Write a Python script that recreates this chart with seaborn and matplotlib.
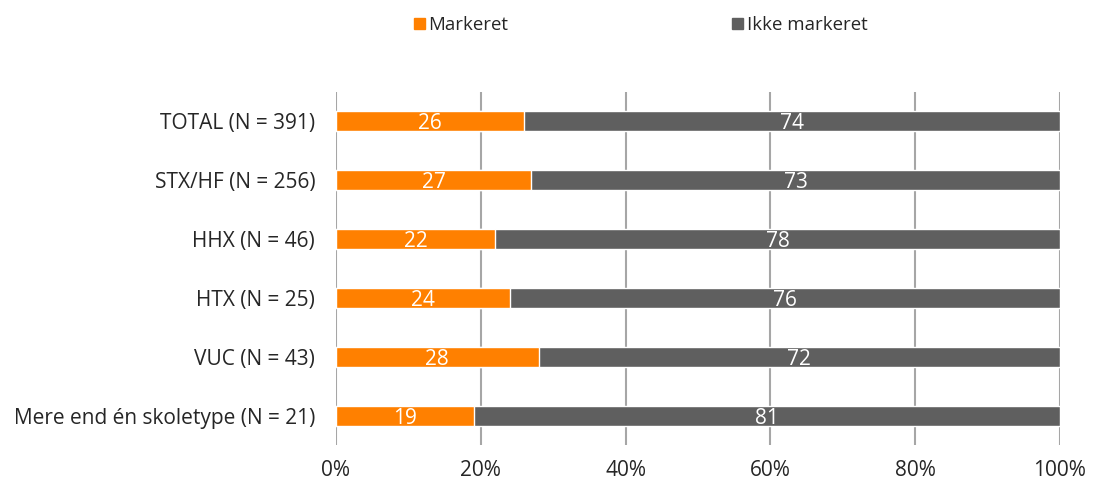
import pandas as pd
import matplotlib.pyplot as plt
import seaborn as sns
from matplotlib.patches import Patch

sns.set_theme(style="white")
plt.rcParams['font.family'] = ['Open Sans', 'DejaVu Sans']

kategorier = ['TOTAL (N = 391)', 'STX/HF (N = 256)', 'HHX (N = 46)', 'HTX (N = 25)',
              'VUC (N = 43)', 'Mere end én skoletype (N = 21)']
markeret = [26, 27, 22, 24, 28, 19]
ikke_markeret = [74, 73, 78, 76, 72, 81]

orange = '#FF8000'
graa = '#5F5F5F'

df = pd.DataFrame({'kategori': kategorier, 'Markeret': markeret, 'Ikke markeret': ikke_markeret})
df['total'] = df['Markeret'] + df['Ikke markeret']

fig = plt.figure(figsize=(10.93, 4.82), dpi=100)
ax = fig.add_axes([0.3074, 0.0768, 0.6624, 0.7322])

# stablede søjler: først total (grå), så markeret (orange) ovenpå
sns.barplot(ax=ax, data=df, x='total', y='kategori', color=graa, orient='h', width=0.34, saturation=1)
sns.barplot(ax=ax, data=df, x='Markeret', y='kategori', color=orange, orient='h', width=0.34, saturation=1)

for i, (m, im) in enumerate(zip(markeret, ikke_markeret)):
    ax.text(m / 2, i, str(m), color='white', ha='center', va='center_baseline', fontsize=15)
    ax.text(m + im / 2, i, str(im), color='white', ha='center', va='center_baseline', fontsize=15)

ax.set_xlim(0, 100)
ax.set_ylim(5.5, -0.5)
ax.set_xticks([0, 20, 40, 60, 80, 100])
ax.set_xticklabels([f'{v}%' for v in range(0, 101, 20)])
ax.xaxis.grid(True, color='#A6A6A6', linewidth=1.5)
ax.set_axisbelow(True)
for s in ax.spines.values():
    s.set_visible(False)
ax.set_xlabel('')
ax.set_ylabel('')
ax.tick_params(axis='both', length=0, labelsize=15, colors='#262626')
ax.tick_params(axis='x', pad=11)
ax.tick_params(axis='y', pad=15)

handles = [Patch(color=orange, label='Markeret'), Patch(color=graa, label='Ikke markeret')]
fig.legend(handles=handles, loc='center', bbox_to_anchor=(0.586, 0.948), ncol=2, frameon=False,
           fontsize=13.4, handlelength=0.6, handleheight=0.6, handletextpad=0.2, columnspacing=12)

plt.savefig('out.png', dpi=100)
